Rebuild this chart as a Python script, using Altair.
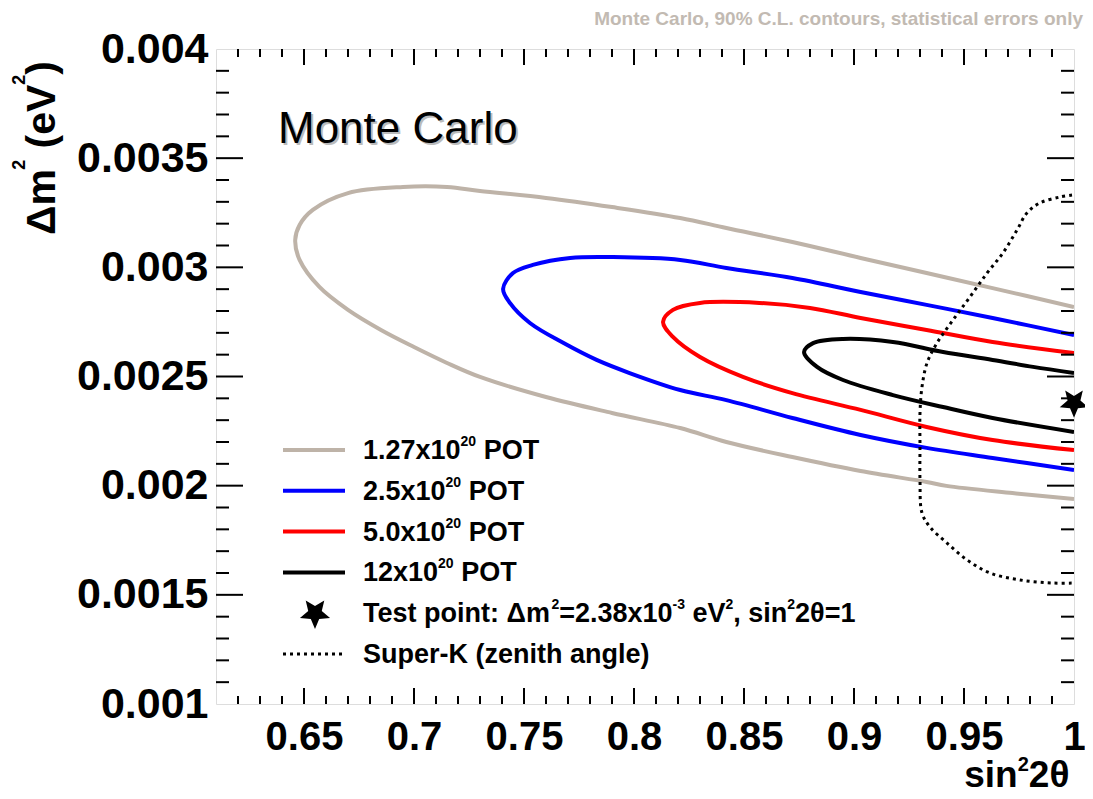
import altair as alt
import pandas as pd

# ---------------- data ----------------
series_names = ["1.27x10^20 POT", "2.5x10^20 POT", "5.0x10^20 POT", "12x10^20 POT"]
series_colors = ["#BEB3A8", "#0000FF", "#FF0000", "#000000"]

grey_x = [1.0, 0.963, 0.933, 0.903, 0.872, 0.842, 0.821, 0.790, 0.760, 0.730, 0.715, 0.695, 0.670, 0.654, 0.648, 0.646,
          0.648, 0.657, 0.670, 0.685, 0.700, 0.715, 0.730, 0.760, 0.790, 0.821, 0.842, 0.872, 0.903, 0.933, 0.942, 0.972, 1.0]
grey_y = [0.002818, 0.002905, 0.002974, 0.003043, 0.003116, 0.003180, 0.003226, 0.003276, 0.003318, 0.003350, 0.003368,
          0.003368, 0.003340, 0.003263, 0.003194, 0.003125,
          0.003034, 0.002910, 0.002805, 0.002713, 0.002635, 0.002562, 0.002498, 0.002406, 0.002333, 0.002264, 0.002200,
          0.002131, 0.002067, 0.002017, 0.001999, 0.001966, 0.001939]

blue_x = [1.0, 0.963, 0.933, 0.903, 0.872, 0.842, 0.821, 0.7905, 0.771, 0.754, 0.745, 0.7405,
          0.7436, 0.7527, 0.768, 0.783, 0.798, 0.821, 0.842, 0.872, 0.903, 0.933, 0.963, 1.0]
blue_y = [0.002690, 0.002768, 0.002828, 0.002887, 0.002951, 0.002997, 0.003034, 0.003047, 0.003043, 0.003011, 0.002974,
          0.002901, 0.002837, 0.002745, 0.002653, 0.002576, 0.002516, 0.002438, 0.002392, 0.002310, 0.002232, 0.002173,
          0.002127, 0.002072]

red_x = [1.0, 0.963, 0.933, 0.903, 0.880, 0.857, 0.830, 0.8177, 0.8132,
         0.8177, 0.830, 0.8495, 0.872, 0.903, 0.933, 0.963, 1.0]
red_y = [0.002608, 0.002658, 0.002713, 0.002768, 0.002814, 0.002837, 0.002837, 0.002805, 0.002750,
         0.002681, 0.002589, 0.002498, 0.002424, 0.002347, 0.002269, 0.002209, 0.002163]

black_x = [1.0, 0.9814, 0.963, 0.9405, 0.9177, 0.895, 0.8814, 0.8773,
           0.8832, 0.895, 0.9177, 0.9405, 0.963, 1.0]
black_y = [0.002516, 0.002544, 0.002576, 0.002612, 0.002658, 0.002672, 0.002653, 0.002612,
           0.002544, 0.002484, 0.002415, 0.002360, 0.002310, 0.002246]

superk_x = [0.9991, 0.9936, 0.9845, 0.9786, 0.9741, 0.9677, 0.9605, 0.9527, 0.945, 0.9377, 0.9332, 0.9309, 0.930,
            0.930, 0.930, 0.9309, 0.9345, 0.9423, 0.9514, 0.9618, 0.9755, 0.9905, 1.0]
superk_y = [0.003331, 0.003322, 0.003295, 0.003249, 0.003171, 0.003066, 0.002974, 0.002864, 0.002759, 0.002653,
            0.002562, 0.002452, 0.002333, 0.002177, 0.002026, 0.001875, 0.001811, 0.001737, 0.001660, 0.001600,
            0.001568, 0.001554, 0.001554]

test_point_x = [1.0]
test_point_y = [0.00238]

x_major = [0.65, 0.7, 0.75, 0.8, 0.85, 0.9, 0.95, 1.0]
x_minor = [round(0.62 + 0.01 * i, 2) for i in range(38)]
y_major = [0.001, 0.0015, 0.002, 0.0025, 0.003, 0.0035, 0.004]
y_minor = [round(0.0011 + 0.0001 * i, 4) for i in range(29)]

title_text = "Monte Carlo, 90% C.L. contours, statistical errors only"
inner_text = "Monte Carlo"
# rich texts: (text, is_superscript)
x_title = [("sin", False), ("2", True), ("2θ", False)]
y_title = [("Δm", False), ("2", True), (" (eV", False), ("2", True), (")", False)]
legend_rich = [
    [("1.27x10", False), ("20", True), (" POT", False)],
    [("2.5x10", False), ("20", True), (" POT", False)],
    [("5.0x10", False), ("20", True), (" POT", False)],
    [("12x10", False), ("20", True), (" POT", False)],
    [("Test point: Δm", False), ("2", True), ("=2.38x10", False), ("-3", True), (" eV", False), ("2", True),
     (", sin", False), ("2", True), ("2θ=1", False)],
    [("Super-K (zenith angle)", False)],
]

# ---------------- layout / style ----------------
W, H = 858, 655
FONT = "Liberation Sans"
STAR = ("M0,1L0.2645,0.3641L0.9511,0.309L0.428,-0.139L0.5878,-0.809L0,-0.45"
        "L-0.5878,-0.809L-0.428,-0.139L-0.9511,0.309L-0.2645,0.3641Z")

# approximate advance widths (em) of Liberation Sans Bold
CW = {' ': .278, '(': .333, ')': .333, ',': .278, '-': .333, '.': .278, ':': .333, '=': .584,
      'C': .722, 'K': .722, 'L': .611, 'M': .833, 'O': .778, 'P': .667, 'S': .667, 'T': .611, 'V': .667,
      'a': .556, 'c': .556, 'e': .556, 'g': .611, 'h': .611, 'i': .278, 'k': .556, 'l': .278, 'm': .889,
      'n': .611, 'o': .611, 'p': .611, 'r': .389, 's': .556, 't': .333, 'u': .611, 'x': .556, 'y': .556,
      'z': .5, 'Δ': .70, 'θ': .611}


def tw(s, size):
    return sum(CW.get(c, .556) for c in s) * size


xs = alt.Scale(domain=[0.61, 1.0], nice=False, zero=False)
ys = alt.Scale(domain=[0.001, 0.004], nice=False, zero=False)
ax_x = alt.Axis(values=x_major, format="~g", ticks=False, tickSize=0, domain=False, grid=False,
                labelFont=FONT, labelFontWeight="bold", labelFontSize=40, labelColor="black",
                labelPadding=13, labelFlush=False, labelOverlap=False, title=None)
ax_y = alt.Axis(values=y_major, format="~g", ticks=False, tickSize=0, domain=False, grid=False,
                labelFont=FONT, labelFontWeight="bold", labelFontSize=43, labelColor="black",
                labelPadding=8, labelFlush=False, labelOverlap=False, title=None)

rows = []
for name, xv, yv in zip(series_names, [grey_x, blue_x, red_x, black_x], [grey_y, blue_y, red_y, black_y]):
    for i, (a, b) in enumerate(zip(xv, yv)):
        rows.append({"series": name, "i": i, "x": a, "y": b})
cont = pd.DataFrame(rows)

contours = alt.Chart(cont).mark_line(strokeWidth=4, clip=True, interpolate="catmull-rom").encode(
    x=alt.X("x:Q", scale=xs, axis=ax_x),
    y=alt.Y("y:Q", scale=ys, axis=ax_y),
    color=alt.Color("series:N", scale=alt.Scale(domain=series_names, range=series_colors), legend=None),
    detail="series:N",
    order="i:Q",
)

sk = pd.DataFrame({"x": superk_x, "y": superk_y, "i": list(range(len(superk_x)))})
superk = alt.Chart(sk).mark_line(strokeWidth=3, strokeDash=[3, 4], color="black", clip=True,
                                 interpolate="catmull-rom").encode(
    x=alt.X("x:Q", scale=xs, axis=ax_x),
    y=alt.Y("y:Q", scale=ys, axis=ax_y),
    order="i:Q",
)

star = alt.Chart(pd.DataFrame({"x": test_point_x, "y": test_point_y})).mark_point(
    shape=STAR, size=900, filled=True, color="black", opacity=1, strokeWidth=0
).encode(x=alt.X("x:Q", scale=xs, axis=ax_x), y=alt.Y("y:Q", scale=ys, axis=ax_y))


def xticks(vals, length):
    df = pd.DataFrame({"v": vals})
    out = []
    for y0, y1 in [(H, H - length), (0, length)]:
        out.append(alt.Chart(df).mark_rule(color="black", strokeWidth=2).encode(
            x=alt.X("v:Q", scale=xs, axis=ax_x), y=alt.value(y0), y2=alt.value(y1)))
    return out


def yticks(vals, length):
    df = pd.DataFrame({"v": vals})
    out = []
    for x0, x1 in [(0, length), (W, W - length)]:
        out.append(alt.Chart(df).mark_rule(color="black", strokeWidth=2).encode(
            y=alt.Y("v:Q", scale=ys, axis=ax_y), x=alt.value(x0), x2=alt.value(x1)))
    return out


tick_layers = (xticks([v for v in x_major if v < 1.0], 16) + xticks([v for v in x_minor if round(v * 100) % 5 != 0], 8)
               + yticks(y_major[1:-1], 27) + yticks([v for v in y_minor if round(v * 10000) % 5 != 0], 13))


def text_layer(txt, x, y, **kw):
    return alt.Chart(pd.DataFrame({"t": [txt]})).mark_text(**kw).encode(
        text="t:N", x=alt.value(x), y=alt.value(y))


def rich(segs, x0, y0, size, sup_size, lift, anchor="start", rotated=False):
    total = sum(tw(t, sup_size if s else size) for t, s in segs)
    pos = 0.0 if anchor == "start" else -total
    out = []
    for t, s in segs:
        fs = sup_size if s else size
        body = t.lstrip(" ")
        p = pos + tw(t[:len(t) - len(body)], fs)   # leading spaces become an offset
        if rotated:
            x, y = x0 - (lift if s else 0), y0 - p
            out.append(text_layer(body, x, y, align="left", baseline="alphabetic", angle=270, font=FONT,
                                  fontWeight="bold", fontSize=fs, color="black"))
        else:
            x, y = x0 + p, y0 - (lift if s else 0)
            out.append(text_layer(body, x, y, align="left", baseline="alphabetic", font=FONT,
                                  fontWeight="bold", fontSize=fs, color="black"))
        pos += tw(t, fs)
    return out


texts = [
    text_layer(title_text, 867, -30, align="right", baseline="middle", font=FONT,
               fontWeight="bold", fontSize=19, color="#C2BAB2"),
    text_layer(inner_text, 64, 96, align="left", baseline="alphabetic", font=FONT, fontSize=44, color="#BBBBBB"),
    text_layer(inner_text, 62, 94, align="left", baseline="alphabetic", font=FONT, fontSize=44, color="black"),
]
texts += rich(x_title, 856, 738, 37, 20, 16, anchor="end")
texts += rich(y_title, -161, 186, 41, 18, 30, rotated=True)

# legend
leg_y0, leg_dy = 401, 40.8
legend = []
for k, segs in enumerate(legend_rich):
    yy = leg_y0 + k * leg_dy
    if k < 4:
        legend.append(alt.Chart(pd.DataFrame({"s": [series_names[k]]})).mark_rule(
            strokeWidth=4, color=series_colors[k]).encode(x=alt.value(67), x2=alt.value(129), y=alt.value(yy)))
    elif k == 4:
        legend.append(alt.Chart(pd.DataFrame({"s": ["test"]})).mark_point(
            shape=STAR, size=1000, filled=True, color="black", opacity=1, strokeWidth=0).encode(
            x=alt.value(99), y=alt.value(yy)))
    else:
        legend.append(alt.Chart(pd.DataFrame({"s": ["superk"]})).mark_rule(
            strokeWidth=3, strokeDash=[3, 4], color="black").encode(
            x=alt.value(67), x2=alt.value(129), y=alt.value(yy)))
    legend += rich(segs, 147, yy + 9, 27, 14, 13)

chart = alt.layer(contours, superk, *tick_layers, star, *legend, *texts).properties(
    width=W, height=H,
    autosize=alt.AutoSizeParams(type="none"),
    padding={"left": 208, "top": 41, "right": 11, "bottom": 91},
).configure_view(stroke="black", strokeWidth=2).configure(background="white")

chart.save("out.html", embed_options={"renderer": "svg", "actions": False})
